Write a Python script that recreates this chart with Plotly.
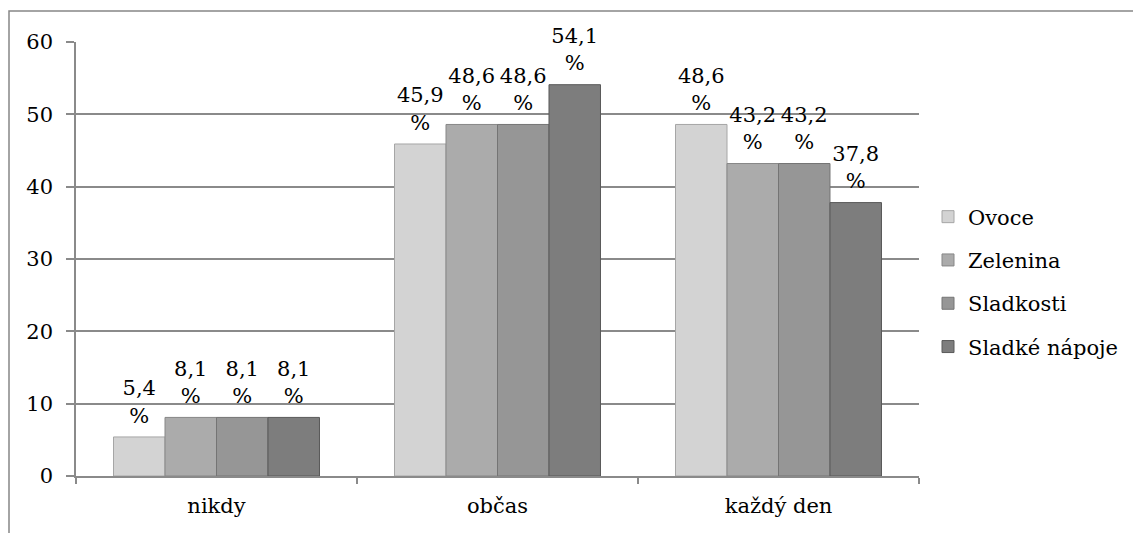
import plotly.graph_objects as go

categories = ["nikdy", "občas", "každý den"]
series_names = ["Ovoce", "Zelenina", "Sladkosti", "Sladké nápoje"]
ovoce = [5.4, 45.9, 48.6]
zelenina = [8.1, 48.6, 43.2]
sladkosti = [8.1, 48.6, 43.2]
sladke_napoje = [8.1, 54.1, 37.8]
y_ticks = [0, 10, 20, 30, 40, 50, 60]

series_values = [ovoce, zelenina, sladkosti, sladke_napoje]
fill_colors = ["#d3d3d3", "#ababab", "#969696", "#7d7d7d"]
line_colors = ["#a6a6a6", "#878787", "#747474", "#5a5a5a"]

FONT = "DejaVu Serif"
FS = 21
GRID = "#8a8a8a"
GAP = 0.267

W, H = 1133, 533
L, R, T, B = 76, 214, 42, 57
pw, ph = W - L - R, H - T - B

fig = go.Figure()
for i, (name, vals) in enumerate(zip(series_names, series_values)):
    fig.add_trace(go.Bar(
        name=name,
        x=categories,
        y=vals,
        legendgroup=name,
        marker=dict(color=fill_colors[i], line=dict(color=line_colors[i], width=1)),
        hoverinfo="skip",
    ))

# value labels above each bar; the hidden marker pads the text off the bar top
for i, (name, vals) in enumerate(zip(series_names, series_values)):
    fig.add_trace(go.Scatter(
        x=categories,
        y=vals,
        mode="markers+text",
        marker=dict(size=13, color="rgba(0,0,0,0)"),
        text=[f"{v:.1f}".replace(".", ",") + "<br>%" for v in vals],
        textposition="top center",
        textfont=dict(family=FONT, size=FS, color="#000000"),
        cliponaxis=False,
        showlegend=False,
        hoverinfo="skip",
    ))

# outer chart frame
fig.add_shape(
    type="rect", xref="paper", yref="paper",
    x0=(9 - L) / pw, x1=(W + 5 - L) / pw,
    y0=-(H + 10 - T - ph) / ph, y1=(H - B - 11) / ph,
    line=dict(color="#868686", width=1.5), fillcolor="rgba(0,0,0,0)", layer="below",
)

fig.update_layout(
    width=W, height=H,
    margin=dict(l=L, r=R, t=T, b=B, autoexpand=False),
    paper_bgcolor="white", plot_bgcolor="white",
    barmode="group", bargap=GAP, bargroupgap=0,
    scattermode="group", scattergap=GAP,
    font=dict(family=FONT, size=FS, color="#000000"),
    showlegend=True,
    legend=dict(
        x=(928 - L) / pw, xanchor="left",
        y=(H - B - 282) / ph, yanchor="middle",
        font=dict(family=FONT, size=FS, color="#000000"),
        tracegroupgap=13, bgcolor="rgba(0,0,0,0)",
    ),
    xaxis=dict(
        type="category", tickson="boundaries", ticks="outside", ticklen=6,
        tickcolor=GRID, tickwidth=1.5, showline=True, linecolor=GRID, linewidth=1.5,
        showgrid=False, tickfont=dict(family=FONT, size=FS, color="#000"), zeroline=False,
        ticklabelstandoff=10, automargin=False,
    ),
    yaxis=dict(
        range=[0, 60], tickvals=y_ticks, ticks="outside", ticklen=8,
        tickcolor=GRID, tickwidth=1.5, showline=True, linecolor=GRID, linewidth=1.5,
        showgrid=True, gridcolor=GRID, gridwidth=1.5, zeroline=False,
        tickfont=dict(family=FONT, size=FS, color="#000"), ticklabelstandoff=9,
        automargin=False,
    ),
)

fig.write_html("out.html")
